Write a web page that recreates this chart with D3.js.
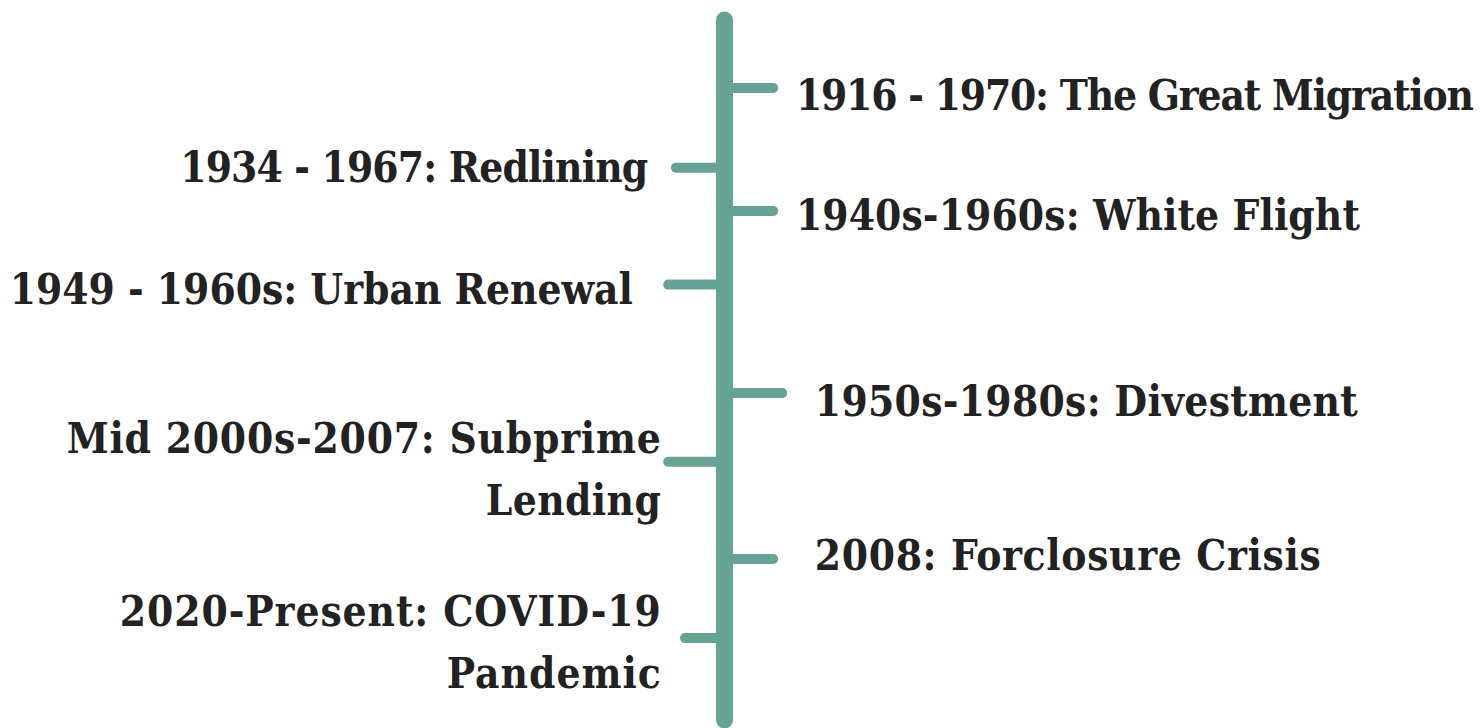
<!DOCTYPE html>
<html>
<head>
<meta charset="utf-8">
<script src="https://cdn.jsdelivr.net/npm/d3@7"></script>
<style>
  html, body { margin: 0; padding: 0; background: #fff; }
  svg text { font-family: "DejaVu Serif Condensed", "DejaVu Serif", serif; font-weight: bold; fill: #222; }
</style>
</head>
<body>
<script>
    var global_width = 1480,
        global_height = 728;

    // timeline events, top to bottom (positions in timeline units 0-100)
    var labels = [
        ["1916 - 1970: The Great Migration"],
        ["1934 - 1967: Redlining"],
        ["1940s-1960s: White Flight"],
        ["1949 - 1960s: Urban Renewal"],
        ["1950s-1980s: Divestment"],
        ["Mid 2000s-2007: Subprime", "Lending"],
        ["2008: Forclosure Crisis"],
        ["2020-Present: COVID-19", "Pandemic"]
    ];
    var sides     = ["right", "left", "right", "left", "right", "left", "right", "left"];
    var tickPos   = [9.7, 21.1, 27.3, 37.8, 53.3, 63.1, 77.0, 88.3];

    // layout: tick lengths and label offsets in tick units, label baselines in timeline units
    var tickLen     = [6.8, 6.8, 6.8, 7.9, 8.1, 7.9, 6.8, 5.5];
    var labelOffset = [10.2, 10.9, 10.2, 13.1, 12.9, 9.1, 12.9, 9.1];
    var labelPos    = [12.8, 23.1, 30.0, 40.6, 56.6, 61.9, 78.6, 86.6];
    var lineWidths  = [[678], [468], [564], [623], [543], [594, 175], [506], [541, 214]];

    var svg = d3.select("body").append("svg")
        .attr("width", global_width)
        .attr("height", global_height);

    var teal = "#67a395";
    var axisX = 724.5;

    // one scale for positions along the line, one for horizontal offsets
    var yScale = d3.scaleLinear().domain([0, 100]).range([20, 720]);
    var lenScale = d3.scaleLinear().domain([0, 10]).range([0, 70]);

    // main vertical line
    svg.append("line")
        .attr("x1", axisX).attr("x2", axisX)
        .attr("y1", yScale(0)).attr("y2", yScale(100))
        .attr("stroke", teal)
        .attr("stroke-width", 17)
        .attr("stroke-linecap", "round");

    var events = labels.map(function(d, i) {
        return {lines: d, side: sides[i], pos: tickPos[i], len: tickLen[i],
                off: labelOffset[i], lab: labelPos[i], widths: lineWidths[i]};
    });

    function dir(d) { return d.side == "right" ? 1 : -1; }

    // ticks
    svg.selectAll(".tick")
        .data(events)
        .enter()
        .append("line")
        .attr("class", "tick")
        .attr("x1", function(d) { return axisX + dir(d) * 6; })
        .attr("x2", function(d) { return axisX + dir(d) * (6 + lenScale(d.len) - 5); })
        .attr("y1", function(d) { return yScale(d.pos); })
        .attr("y2", function(d) { return yScale(d.pos); })
        .attr("stroke", teal)
        .attr("stroke-width", 10)
        .attr("stroke-linecap", "round");

    var fontSize = 42;
    var lineGap = 62;

    svg.selectAll(".label")
        .data(events)
        .enter()
        .append("text")
        .attr("class", "label")
        .attr("font-size", fontSize)
        .attr("text-anchor", function(d) { return d.side == "right" ? "start" : "end"; })
        .attr("x", function(d) { return axisX + dir(d) * lenScale(d.off); })
        .attr("y", function(d) { return yScale(d.lab); })
        .each(function(d) {
            var t = d3.select(this);
            d.lines.forEach(function(s, k) {
                t.append("tspan")
                    .attr("x", t.attr("x"))
                    .attr("dy", k == 0 ? 0 : lineGap)
                    .attr("textLength", d.widths[k])
                    .attr("lengthAdjust", "spacing")
                    .text(s);
            });
        });
</script>
</body>
</html>
